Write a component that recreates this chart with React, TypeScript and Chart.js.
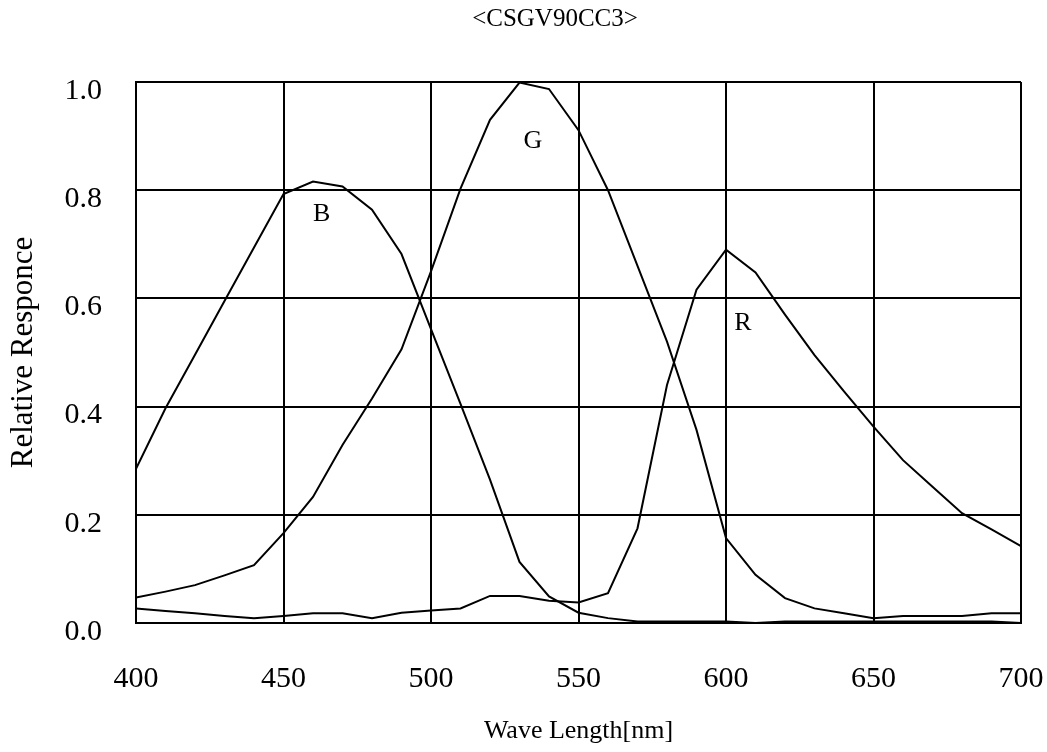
import React, { useEffect, useRef } from "react";
import { Chart, registerables } from "chart.js";

Chart.register(...registerables);

const wavelengths = [400, 410, 420, 430, 440, 450, 460, 470, 480, 490, 500, 510, 520, 530, 540, 550, 560, 570, 580, 590, 600, 610, 620, 630, 640, 650, 660, 670, 680, 690, 700];
const blueResponse = [0.285, 0.397, 0.496, 0.595, 0.694, 0.793, 0.816, 0.807, 0.764, 0.682, 0.543, 0.405, 0.265, 0.113, 0.049, 0.019, 0.009, 0.003, 0.003, 0.003, 0.003, 0.0, 0.003, 0.003, 0.003, 0.003, 0.003, 0.003, 0.003, 0.003, 0.0];
const greenResponse = [0.047, 0.058, 0.07, 0.088, 0.107, 0.166, 0.233, 0.329, 0.415, 0.506, 0.65, 0.803, 0.93, 0.999, 0.987, 0.911, 0.8, 0.66, 0.52, 0.357, 0.157, 0.089, 0.046, 0.027, 0.018, 0.009, 0.013, 0.013, 0.013, 0.018, 0.018];
const redResponse = [0.027, 0.022, 0.018, 0.013, 0.009, 0.013, 0.018, 0.018, 0.009, 0.019, 0.023, 0.027, 0.05, 0.05, 0.041, 0.038, 0.055, 0.175, 0.44, 0.616, 0.69, 0.648, 0.57, 0.495, 0.428, 0.363, 0.301, 0.252, 0.203, 0.173, 0.142];

const xTicks = [400, 450, 500, 550, 600, 650, 700];
const yTicks = [0.0, 0.2, 0.4, 0.6, 0.8, 1.0];

const curveLabels = ["B", "G", "R"];
const curveLabelX = [462.9, 534.5, 605.7];
const curveLabelY = [0.756, 0.891, 0.555];

const chartTitle = "<CSGV90CC3>";
const xTitle = "Wave Length[nm]";
const yTitle = "Relative Responce";

const FONT = '"Liberation Serif", "Times New Roman", serif';

export default function App() {
  const canvasRef = useRef<HTMLCanvasElement | null>(null);

  useEffect(() => {
    const canvas = canvasRef.current;
    if (!canvas) return;

    const toXY = (vals: number[]) => wavelengths.map((w, i) => ({ x: w, y: vals[i] }));

    const labelPlugin = {
      id: "curveLabelsAndTitle",
      afterDatasetsDraw(chart: any) {
        const { ctx, scales } = chart;
        const xs = scales.x;
        const ys = scales.y;
        ctx.save();
        ctx.fillStyle = "#000";
        ctx.textAlign = "center";
        ctx.textBaseline = "middle";
        ctx.font = `26px ${FONT}`;
        curveLabels.forEach((t, i) => {
          ctx.fillText(t, xs.getPixelForValue(curveLabelX[i]), ys.getPixelForValue(curveLabelY[i]));
        });
        ctx.font = `25px ${FONT}`;
        ctx.fillText(chartTitle, 555, 19);
        ctx.restore();
      },
    };

    const lineStyle = {
      borderColor: "#000",
      backgroundColor: "#000",
      borderWidth: 2,
      pointRadius: 0,
      fill: false,
      tension: 0,
    };

    const chart = new Chart(canvas, {
      type: "line",
      data: {
        datasets: [
          { label: "B", data: toXY(blueResponse), ...lineStyle },
          { label: "G", data: toXY(greenResponse), ...lineStyle },
          { label: "R", data: toXY(redResponse), ...lineStyle },
        ],
      },
      options: {
        responsive: false,
        animation: false,
        devicePixelRatio: 1,
        layout: { padding: { top: 82, right: 26, bottom: 0, left: 0 } },
        plugins: {
          legend: { display: false },
          tooltip: { enabled: false },
          title: { display: false },
        },
        scales: {
          x: {
            type: "linear",
            min: 400,
            max: 700,
            afterBuildTicks: (s: any) => {
              s.ticks = xTicks.map((v) => ({ value: v }));
            },
            afterFit: (s: any) => {
              s.height = 129;
              s.paddingLeft = 0;
              s.paddingRight = 0;
            },
            grid: { color: "#000", lineWidth: 2, drawTicks: false },
            border: { display: true, color: "#000", width: 2 },
            ticks: {
              color: "#000",
              font: { family: FONT, size: 30 },
              padding: 38,
              maxRotation: 0,
              callback: (v: any) => String(v),
            },
            title: {
              display: true,
              text: xTitle,
              color: "#000",
              font: { family: FONT, size: 26 },
              padding: { top: 0, bottom: 5 },
            },
          },
          y: {
            type: "linear",
            min: 0,
            max: 1,
            afterBuildTicks: (s: any) => {
              s.ticks = yTicks.map((v) => ({ value: v }));
            },
            afterFit: (s: any) => {
              s.width = 136;
              s.paddingTop = 0;
              s.paddingBottom = 0;
            },
            grid: { color: "#000", lineWidth: 2, drawTicks: false },
            border: { display: true, color: "#000", width: 2 },
            ticks: {
              color: "#000",
              font: { family: FONT, size: 30 },
              padding: 34,
              labelOffset: 9,
              callback: (v: any) => Number(v).toFixed(1),
            },
            title: {
              display: true,
              text: yTitle,
              color: "#000",
              font: { family: FONT, size: 31 },
              padding: { top: 5, bottom: 0 },
            },
          },
        },
      },
      plugins: [labelPlugin],
    });

    return () => chart.destroy();
  }, []);

  return (
    <canvas
      ref={canvasRef}
      width={1047}
      height={752}
      style={{ position: "absolute", left: 0, top: 0, width: 1047, height: 752, background: "#fff" }}
    />
  );
}
